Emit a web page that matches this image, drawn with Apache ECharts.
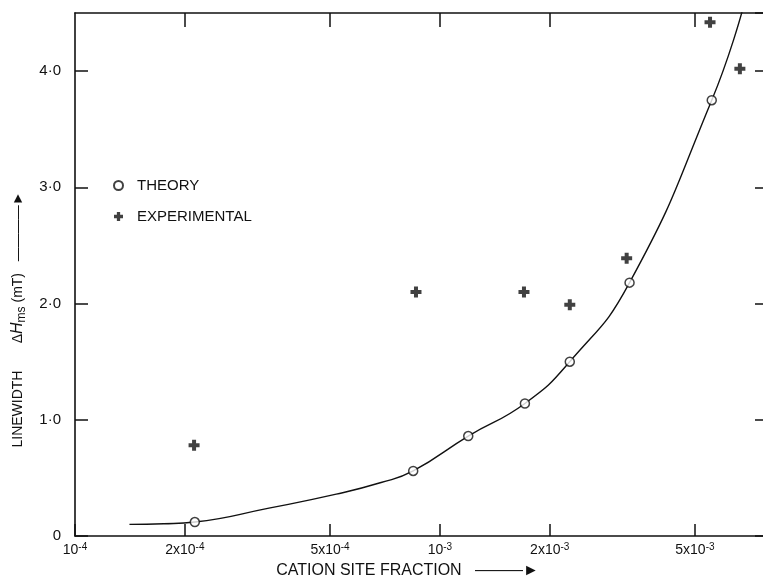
<!DOCTYPE html>
<html>
<head>
<meta charset="utf-8">
<script src="https://cdn.jsdelivr.net/npm/echarts@6/dist/echarts.min.js"></script>
<style>
  html, body { margin: 0; padding: 0; background: #fff; }
  #chart { width: 763px; height: 580px; }
</style>
</head>
<body>
<div id="chart"></div>
<script>
// x 轴刻度 (对数)
const xTicks = [1e-4, 2e-4, 5e-4, 1e-3, 2e-3, 5e-3]
const xTickBase = ['10', '2x10', '5x10', '10', '2x10', '5x10']
const xTickExp = ['-4', '-4', '-4', '-3', '-3', '-3']
const yTicks = [0, 1, 2, 3, 4]
const yTickLabels = ['0', '1·0', '2·0', '3·0', '4·0']

// theory points
const theoryX = [2.13e-4, 0.845e-3, 1.196e-3, 1.71e-3, 2.27e-3, 3.31e-3, 5.56e-3, 6.73e-3]
const theoryY = [0.12, 0.56, 0.86, 1.14, 1.50, 2.18, 3.75, 4.51]

// experimental points
const expX = [2.12e-4, 0.86e-3, 1.70e-3, 2.27e-3, 3.25e-3, 5.50e-3, 6.64e-3]
const expY = [0.78, 2.10, 2.10, 1.99, 2.39, 4.42, 4.02]

// curve drawn through the theory points
const curveX = [1.41e-4, 1.75e-4, 2.13e-4, 3.4e-4, 5.2e-4, 6.9e-4, 0.845e-3, 1.196e-3, 1.71e-3, 2.27e-3, 3.31e-3, 5.56e-3, 6.73e-3]
const curveY = [0.10, 0.105, 0.12, 0.24, 0.36, 0.46, 0.56, 0.86, 1.14, 1.50, 2.18, 3.75, 4.51]

const zip = (xs, ys) => xs.map((x, i) => [x, ys[i]])

const font = '"Liberation Sans", "DejaVu Sans", sans-serif'
const ink = '#111'
const plus = 'path://M3.5,0h4v3.5h3.5v4h-3.5v3.5h-4v-3.5h-3.5v-4h3.5z'

const xLabel = v => {
  let best = 0
  xTicks.forEach((t, i) => {
    if (Math.abs(Math.log10(t) - Math.log10(v)) < Math.abs(Math.log10(xTicks[best]) - Math.log10(v))) best = i
  })
  return '{n|' + xTickBase[best] + '}{s|' + xTickExp[best] + '}'
}
const yLabel = v => {
  const i = yTicks.indexOf(Math.round(v))
  return i >= 0 ? yTickLabels[i] : ''
}

const chart = echarts.init(document.getElementById('chart'))
const option = {
  animation: false,
  textStyle: { fontFamily: font, color: ink },
  grid: { left: 75, right: -3, top: 13, bottom: 44, outerBoundsMode: 'none' },
  legend: {
    orient: 'vertical',
    left: 108,
    top: 173,
    itemGap: 16,
    itemWidth: 9,
    itemHeight: 9,
    textStyle: { fontFamily: font, fontSize: 15, color: ink, padding: [0, 0, 0, 9] },
    data: [
      { name: 'THEORY', icon: 'circle' },
      { name: 'EXPERIMENTAL', icon: plus }
    ]
  },
  xAxis: [
    {
      type: 'log',
      logBase: 10,
      min: 1e-4,
      max: 7.83e-3,
      position: 'bottom',
      name: 'CATION SITE FRACTION   ———►',
      nameLocation: 'middle',
      nameGap: 27,
      nameTextStyle: { fontFamily: font, fontSize: 16, color: ink, padding: [0, 26, 0, 0] },
      axisLine: { onZero: false, lineStyle: { color: ink, width: 1.6 } },
      axisTick: { inside: true, length: 12, customValues: xTicks, lineStyle: { color: ink, width: 1.5 } },
      axisLabel: {
        customValues: xTicks,
        formatter: xLabel,
        margin: 6,
        rich: {
          n: { fontFamily: font, fontSize: 14, color: ink },
          s: { fontFamily: font, fontSize: 10, color: ink, padding: [0, 0, 7, 0] }
        }
      },
      minorTick: { show: false },
      splitLine: { show: false }
    },
    {
      type: 'log',
      logBase: 10,
      min: 1e-4,
      max: 7.83e-3,
      position: 'top',
      axisLine: { onZero: false, lineStyle: { color: ink, width: 1.6 } },
      axisTick: { inside: true, length: 14, customValues: xTicks.slice(1), lineStyle: { color: ink, width: 1.5 } },
      axisLabel: { show: false },
      minorTick: { show: false },
      splitLine: { show: false }
    }
  ],
  yAxis: [
    {
      type: 'value',
      min: 0,
      max: 4.5,
      interval: 1,
      position: 'left',
      name: '{a|LINEWIDTH       Δ}{h|H}{s|ms}{a| (mT)   ————►}',
      nameLocation: 'middle',
      nameGap: 47,
      nameRotate: 90,
      nameTextStyle: {
        padding: [0, 90, 0, 0],
        rich: {
          a: { fontFamily: font, fontSize: 14, color: ink },
          h: { fontFamily: font, fontSize: 16, fontStyle: 'italic', color: ink },
          s: { fontFamily: font, fontSize: 12, color: ink, padding: [8, 0, 0, 0] }
        }
      },
      axisLine: { onZero: false, lineStyle: { color: ink, width: 1.6 } },
      axisTick: { inside: true, length: 13, lineStyle: { color: ink, width: 1.5 } },
      axisLabel: { formatter: yLabel, fontSize: 15, color: ink, margin: 14, showMaxLabel: false },
      splitLine: { show: false }
    },
    {
      type: 'value',
      min: 0,
      max: 4.5,
      interval: 1,
      position: 'right',
      axisLine: { onZero: false, lineStyle: { color: ink, width: 1.6 } },
      axisTick: { inside: true, length: 11, lineStyle: { color: ink, width: 1.5 } },
      axisLabel: { show: false },
      splitLine: { show: false }
    }
  ],
  series: [
    {
      name: 'curve',
      type: 'line',
      data: zip(curveX, curveY),
      smooth: 0.5,
      showSymbol: false,
      lineStyle: { color: ink, width: 1.4 },
      z: 1,
      silent: true
    },
    {
      name: 'THEORY',
      type: 'scatter',
      data: zip(theoryX, theoryY),
      symbol: 'circle',
      symbolSize: 9,
      itemStyle: { color: '#fff', borderColor: ink, borderWidth: 1.5 },
      z: 3
    },
    {
      name: 'EXPERIMENTAL',
      type: 'scatter',
      data: zip(expX, expY),
      symbol: plus,
      symbolSize: 11,
      itemStyle: { color: ink },
      z: 3
    }
  ]
}
chart.setOption(option)
</script>
</body>
</html>
